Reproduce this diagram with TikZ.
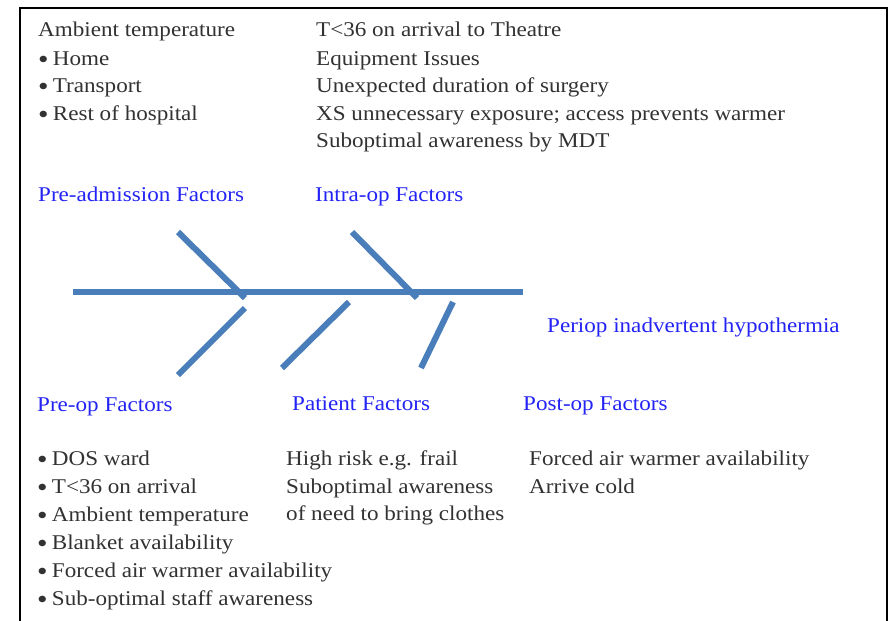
\documentclass[tikz,border=0pt]{standalone}
\usepackage{fontspec}
\setmainfont{Liberation Serif}[FakeStretch=1.10]
\definecolor{bone}{RGB}{74,126,187}
\definecolor{head}{RGB}{35,35,245}
\definecolor{body}{RGB}{50,50,50}
\newcommand{\bul}{\raisebox{-0.35ex}{\scalebox{1.3}{\textbullet}}\hspace{0.2em}}
\begin{document}
\begin{tikzpicture}[x=1pt,y=-1pt,
  txt/.style={anchor=base west,inner sep=0pt,text=body,font=\fontsize{21}{28}\selectfont},
  hd/.style={anchor=base west,inner sep=0pt,text=head,font=\fontsize{21}{28}\selectfont},
  fish/.style={draw=bone,line width=6pt,line cap=butt}]
\useasboundingbox (0,0) rectangle (889,621);
\clip (0,0) rectangle (889,621);
\fill[white] (0,0) rectangle (889,621);
\draw[line width=2pt,black] (20,8) rectangle (887,640);
% top-left list
\node[txt] (a0) at (38,36) {Ambient temperature};
\node[txt] (a1) at (38,65) {\bul Home};
\node[txt] (a2) at (38,92) {\bul Transport};
\node[txt] (a3) at (38,120) {\bul Rest of hospital};
% top-right list
\node[txt] (b0) at (316,36) {T<36 on arrival to Theatre};
\node[txt] (b1) at (316,65) {Equipment Issues};
\node[txt] (b2) at (316,92) {Unexpected duration of surgery};
\node[txt] (b3) at (316,120) {XS unnecessary exposure; access prevents warmer};
\node[txt] (b4) at (316,147) {Suboptimal awareness by MDT};
% headings
\node[hd] (preadm) at (38,201) {Pre-admission Factors};
\node[hd] (intra) at (315,201) {Intra-op Factors};
\node[hd] (effect) at (547,332) {Periop inadvertent hypothermia};
\node[hd] (preop) at (37,411) {Pre-op Factors};
\node[hd] (patient) at (292,410) {Patient Factors};
\node[hd] (postop) at (523,410) {Post-op Factors};
% fishbone
\coordinate (s0) at (73,292);
\coordinate (s1) at (523,292);
\coordinate (u1a) at (178,232); \coordinate (u1b) at (245,298);
\coordinate (u2a) at (352,232); \coordinate (u2b) at (417,298);
\coordinate (l1a) at (245,308); \coordinate (l1b) at (178,375);
\coordinate (l2a) at (349,302); \coordinate (l2b) at (282,368);
\coordinate (l3a) at (453,302); \coordinate (l3b) at (421,368);
\draw[fish] (s0) -- (s1);
\draw[fish] (u1a) -- (u1b);
\draw[fish] (u2a) -- (u2b);
\draw[fish] (l1a) -- (l1b);
\draw[fish] (l2a) -- (l2b);
\draw[fish] (l3a) -- (l3b);
% bottom lists
\node[txt] (c0) at (37,465) {\bul DOS ward};
\node[txt] (c1) at (37,493) {\bul T<36 on arrival};
\node[txt] (c2) at (37,521) {\bul Ambient temperature};
\node[txt] (c3) at (37,549) {\bul Blanket availability};
\node[txt] (c4) at (37,577) {\bul Forced air warmer availability};
\node[txt] (c5) at (37,605) {\bul Sub-optimal staff awareness};
\node[txt] (d0) at (286,465) {High risk e.g. frail};
\node[txt] (d1) at (286,493) {Suboptimal awareness};
\node[txt] (d2) at (286,520) {of need to bring clothes};
\node[txt] (e0) at (529,465) {Forced air warmer availability};
\node[txt] (e1) at (529,493) {Arrive cold};
\end{tikzpicture}
\end{document}
